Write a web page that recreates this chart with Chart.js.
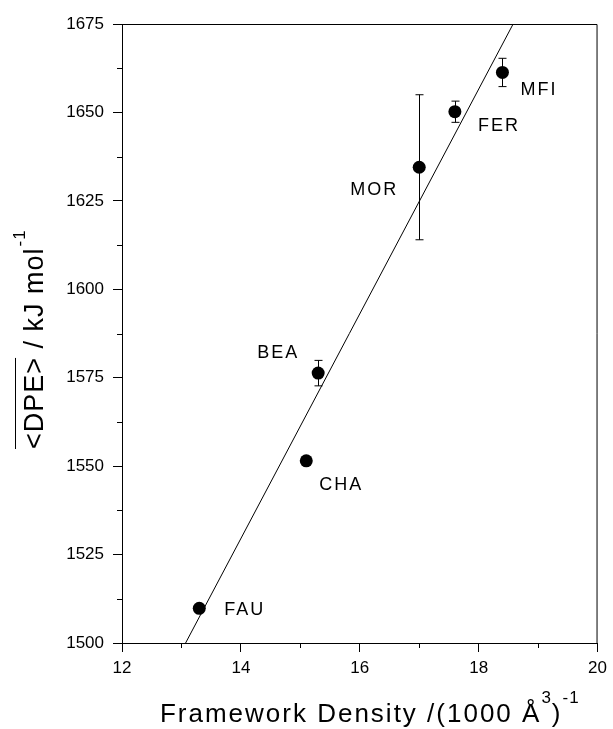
<!DOCTYPE html>
<html>
<head>
<meta charset="utf-8">
<script src="https://cdn.jsdelivr.net/npm/chart.js@4.4.1/dist/chart.umd.min.js"></script>
<style>
  body { margin: 0; background: #fff; }
  canvas { display: block; }
</style>
</head>
<body>
<canvas id="chartDPE" width="613" height="729"></canvas>
<script>
// Dades llegides del gràfic
const zeolites = ['FAU', 'CHA', 'BEA', 'MOR', 'FER', 'MFI'];
const frameworkDensity = [13.3, 15.1, 15.3, 17.0, 17.6, 18.4];
const dpe = [1509.8, 1551.5, 1576.3, 1634.5, 1650.2, 1661.3];
const dpeError = [0, 0, 3.6, 20.5, 3.0, 4.0];

// recta d'ajust (dos extrems)
const fitX = [13.07, 18.58];
const fitY = [1500, 1675];

const xTicks = [12, 14, 16, 18, 20];
const yTicks = [1500, 1525, 1550, 1575, 1600, 1625, 1650, 1675];
const xMinorTicks = [13, 15, 17, 19];
const yMinorTicks = [1512.5, 1537.5, 1562.5, 1587.5, 1612.5, 1637.5, 1662.5];

// posició de les etiquetes respecte del punt (px)
const labelOffsets = [[25, 2], [13, 24], [-61, -20], [-69, 23], [23, 14], [18, 18]];

const FONT = "'Liberation Sans', Arial, sans-serif";

const extrasPlugin = {
  id: 'extras',
  beforeDatasetsDraw(chart) {
    const ctx = chart.ctx;
    const xs = chart.scales.x, ys = chart.scales.y;
    ctx.save();
    ctx.strokeStyle = '#000';
    ctx.lineWidth = 1;
    frameworkDensity.forEach((fx, i) => {
      if (!dpeError[i]) return;
      const px = Math.round(xs.getPixelForValue(fx)) + 0.5;
      const top = ys.getPixelForValue(dpe[i] + dpeError[i]);
      const bot = ys.getPixelForValue(dpe[i] - dpeError[i]);
      ctx.beginPath();
      ctx.moveTo(px, top); ctx.lineTo(px, bot);
      ctx.moveTo(px - 4, top); ctx.lineTo(px + 4, top);
      ctx.moveTo(px - 4, bot); ctx.lineTo(px + 4, bot);
      ctx.stroke();
    });
    ctx.restore();
  },
  afterDraw(chart) {
    const ctx = chart.ctx;
    const area = chart.chartArea;
    const xs = chart.scales.x, ys = chart.scales.y;
    ctx.save();
    ctx.strokeStyle = '#000';
    ctx.lineWidth = 1;

    // marc superior i dret
    ctx.beginPath();
    ctx.moveTo(area.left, area.top + 0.5);
    ctx.lineTo(area.right - 0.5, area.top + 0.5);
    ctx.lineTo(area.right - 0.5, area.bottom);
    ctx.stroke();

    // ticks menors
    ctx.beginPath();
    xMinorTicks.forEach(v => {
      const px = Math.round(xs.getPixelForValue(v)) + 0.5;
      ctx.moveTo(px, area.bottom); ctx.lineTo(px, area.bottom + 5);
    });
    yMinorTicks.forEach(v => {
      const py = Math.round(ys.getPixelForValue(v)) + 0.5;
      ctx.moveTo(area.left, py); ctx.lineTo(area.left - 5, py);
    });
    ctx.stroke();

    // etiquetes de les zeolites
    ctx.fillStyle = '#000';
    ctx.font = '18px ' + FONT;
    ctx.letterSpacing = '2px';
    ctx.textBaseline = 'middle';
    ctx.textAlign = 'left';
    zeolites.forEach((name, i) => {
      const px = xs.getPixelForValue(frameworkDensity[i]);
      const py = ys.getPixelForValue(dpe[i]);
      ctx.fillText(name, px + labelOffsets[i][0], py + labelOffsets[i][1]);
    });

    // títol eix x
    ctx.textBaseline = 'alphabetic';
    const parts = [
      { t: 'Framework Density /(1000 Å', sup: false },
      { t: '3', sup: true },
      { t: ')', sup: false },
      { t: '-1', sup: true }
    ];
    const mainFont = '26px ' + FONT, supFont = '17px ' + FONT;
    let total = 0;
    parts.forEach(p => {
      ctx.font = p.sup ? supFont : mainFont;
      ctx.letterSpacing = p.sup ? '1px' : '2px';
      total += ctx.measureText(p.t).width;
    });
    let x = (area.left + area.right) / 2 + 10 - total / 2;
    const base = 722;
    parts.forEach(p => {
      ctx.font = p.sup ? supFont : mainFont;
      ctx.letterSpacing = p.sup ? '1px' : '2px';
      ctx.fillText(p.t, x, p.sup ? base - 19 : base);
      x += ctx.measureText(p.t).width;
    });

    // títol eix y (amb barra sobre <DPE>)
    ctx.translate(43, 449);
    ctx.rotate(-Math.PI / 2);
    ctx.font = '27px ' + FONT;
    ctx.letterSpacing = '1px';
    const dpeText = '<DPE>';
    const w1 = ctx.measureText(dpeText).width;
    ctx.fillText(dpeText, 0, 0);
    ctx.beginPath();
    ctx.moveTo(0, -27.5);
    ctx.lineTo(w1 - 1, -27.5);
    ctx.stroke();
    const rest = ' / kJ mol';
    ctx.fillText(rest, w1, 0);
    const w2 = ctx.measureText(rest).width;
    ctx.font = '17px ' + FONT;
    ctx.fillText('-1', w1 + w2 + 1, -18);
    ctx.restore();
  }
};

const ctx = document.getElementById('chartDPE').getContext('2d');
const chartInstance = new Chart(ctx, {
  type: 'scatter',
  data: {
    datasets: [
      {
        label: 'DPE',
        data: frameworkDensity.map((fx, i) => ({ x: fx, y: dpe[i] })),
        backgroundColor: '#000',
        borderWidth: 0,
        pointRadius: 6.5,
        pointHoverRadius: 6.5,
        order: 1
      },
      {
        label: 'ajust',
        data: fitX.map((fx, i) => ({ x: fx, y: fitY[i] })),
        showLine: true,
        borderColor: '#000',
        borderWidth: 1,
        pointRadius: 0,
        order: 2
      }
    ]
  },
  options: {
    responsive: false,
    animation: false,
    events: [],
    layout: { padding: { top: 24, right: 12, left: 0, bottom: 0 } },
    plugins: {
      legend: { display: false },
      tooltip: { enabled: false }
    },
    scales: {
      x: {
        type: 'linear',
        min: 12,
        max: 20,
        afterBuildTicks: s => { s.ticks = xTicks.map(v => ({ value: v })); },
        afterFit: s => { s.height = 86; },
        grid: { drawOnChartArea: false, tickLength: 9, tickColor: '#000', tickWidth: 1 },
        border: { color: '#000', width: 1 },
        ticks: {
          color: '#000',
          font: { family: FONT, size: 17 },
          padding: 6,
          maxRotation: 0,
          callback: v => String(v)
        }
      },
      y: {
        type: 'linear',
        min: 1500,
        max: 1675,
        afterBuildTicks: s => { s.ticks = yTicks.map(v => ({ value: v })); },
        afterFit: s => { s.width = 122; },
        grid: { drawOnChartArea: false, tickLength: 9, tickColor: '#000', tickWidth: 1 },
        border: { color: '#000', width: 1 },
        ticks: {
          color: '#000',
          font: { family: FONT, size: 17 },
          padding: 9,
          callback: v => String(v)
        }
      }
    }
  },
  plugins: [extrasPlugin]
});
</script>
</body>
</html>
